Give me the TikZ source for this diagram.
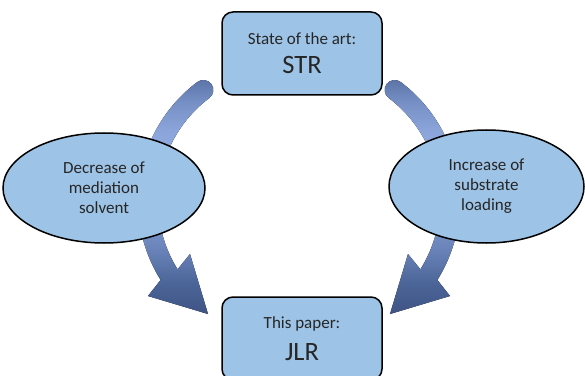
\documentclass[tikz,border=0pt]{standalone}
\usepackage{fontspec}
\setmainfont{Carlito}
\usetikzlibrary{shapes.geometric, calc}
\definecolor{boxfill}{HTML}{9DC3E6}
\definecolor{ink}{HTML}{262626}
\definecolor{flowA}{HTML}{3F5485}
\definecolor{flowB}{HTML}{4A6396}
\definecolor{flowC}{HTML}{6A84BA}
\definecolor{flowD}{HTML}{8EA9DE}
\definecolor{flowE}{HTML}{95B0E4}
\definecolor{flowF}{HTML}{8BA5DA}
\definecolor{flowG}{HTML}{7690C6}
\definecolor{flowH}{HTML}{5B73A6}
\pgfdeclareverticalshading{flowshade}{100bp}{color(0bp)=(flowA); color(25bp)=(flowA);
  color(31bp)=(flowB); color(39bp)=(flowC); color(50bp)=(flowD); color(56bp)=(flowE);
  color(64bp)=(flowF); color(70bp)=(flowG); color(75bp)=(flowH); color(100bp)=(flowH)}

\begin{document}
\begin{tikzpicture}[x=1pt, y=1pt,
    stage/.style={draw=black, line width=1.5pt, fill=boxfill, rounded corners=11pt,
      minimum width=160, minimum height=83, align=center, text=ink},
    change/.style={ellipse, draw=black, line width=1.5pt, fill=boxfill, align=center,
      text=ink, font=\fontsize{17}{20}\selectfont},
    flow/.style={shading=flowshade}]
  \path[use as bounding box, clip] (0,0) rectangle (585,375);

  % Curved flow arrows (behind the ellipses), right one mirrored
  \foreach \side/\dx in {1/0, -1/598} {
    \begin{scope}[xshift=\dx, xscale=\side]
      \coordinate (hub) at (287,174);
      \fill[flow] ($(hub)+(127:129)$) arc[start angle=127, end angle=212, radius=129]
        -- (190,121) -- (208,61) -- (148,79)
        -- ($(hub)+(212:149)$) arc[start angle=212, end angle=127, radius=149]
        arc[start angle=127, end angle=-53, radius=10] -- cycle;
    \end{scope}
  }

  % Stages
  \node[stage] (str) at (302,321.5)
    {\fontsize{17}{20}\selectfont State of the art:\\[11pt]\fontsize{26.5}{28}\selectfont STR};
  \node[stage] (jlr) at (302,36.5)
    {\fontsize{17}{20}\selectfont This paper:\\[11pt]\fontsize{26.5}{28}\selectfont JLR};

  % Changes between them
  \node[change, minimum width=202, minimum height=110] (solv) at (104,187)
    {Decrease of\\mediation\\solvent};
  \node[change, minimum width=195, minimum height=113] (load) at (486.5,188.5)
    {Increase of\\substrate\\loading};
\end{tikzpicture}
\end{document}
